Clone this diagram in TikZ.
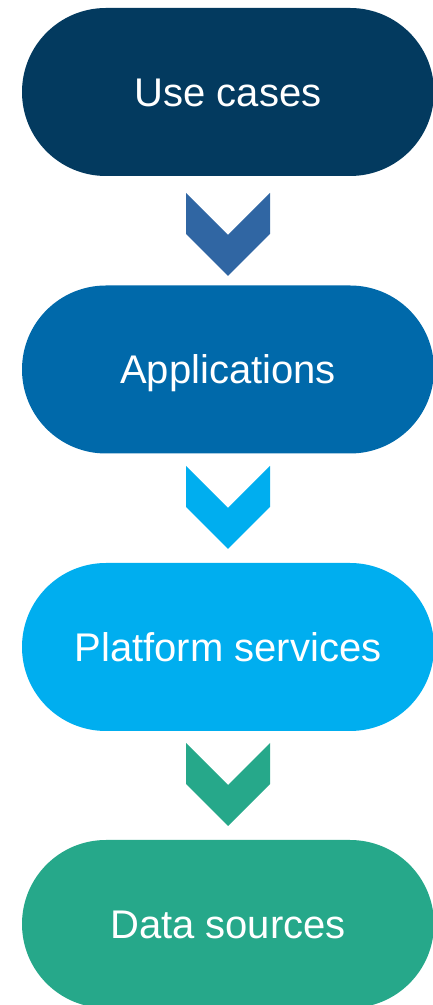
\documentclass[tikz,border=0pt]{standalone}
\usepackage{fontspec}
\setmainfont{Liberation Sans}
\definecolor{boxA}{HTML}{033A5F}
\definecolor{chevA}{HTML}{3066A3}
\definecolor{boxB}{HTML}{0069AA}
\definecolor{boxC}{HTML}{00AEEF}
\definecolor{boxD}{HTML}{26A88A}
\tikzset{
  layer/.style={rounded corners=83.9pt, minimum width=412pt, minimum height=168pt,
    inner sep=0pt, text height=29pt, text depth=0pt, text=white,
    font=\fontsize{40}{45}\selectfont},
  pics/chevron/.style={code={
    \path[pic actions] (-42pt,0pt) -- (0pt,-42pt) -- (42pt,0pt) -- (42pt,-41pt)
      -- (0pt,-83pt) -- (-42pt,-41pt) -- cycle;}}
}
\begin{document}
\begin{tikzpicture}[x=1pt,y=1pt]
\useasboundingbox (0,0) rectangle (433,1005);
\node[layer, fill=boxA] (uc) at (228,913) {Use cases};
\node[layer, fill=boxB] (ap) at (228,635.5) {Applications};
\node[layer, fill=boxC] (ps) at (228,358) {Platform services};
\node[layer, fill=boxD] (ds) at (228,81) {Data sources};
\coordinate (c1) at (228,812);
\coordinate (c2) at (228,539);
\coordinate (c3) at (228,262);
\pic[fill=chevA] at (c1) {chevron};
\pic[fill=boxC] at (c2) {chevron};
\pic[fill=boxD] at (c3) {chevron};
\end{tikzpicture}
\end{document}
